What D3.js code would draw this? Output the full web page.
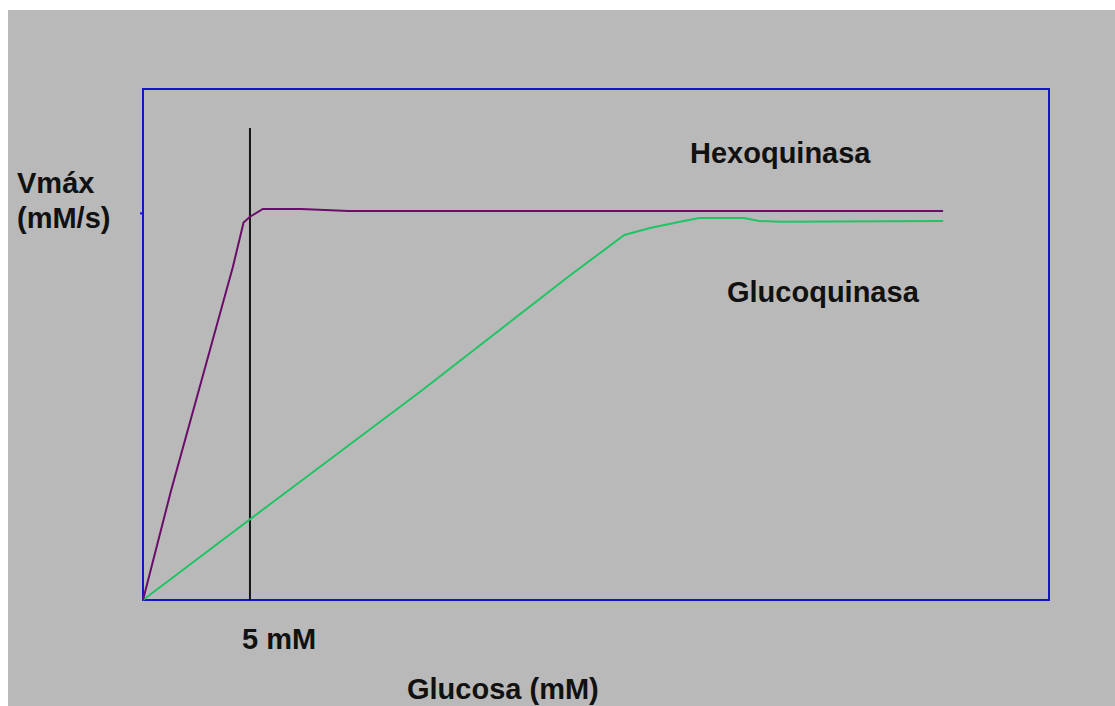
<!DOCTYPE html>
<html>
<head>
<meta charset="utf-8">
<script src="https://cdn.jsdelivr.net/npm/d3@7"></script>
<style>
  body { margin: 0; background: #ffffff; }
  text { font-family: "Liberation Sans", Arial, sans-serif; font-weight: bold; fill: #111; }
</style>
</head>
<body>
<div id="chart"></div>
<script>
// glucose concentration (mM) vs relative velocity (1 = Vmax)
const hexoX = [0, 1.3, 2.9, 4.2, 4.7, 5.0, 5.6, 7.4, 9.6, 37.4];
const hexoY = [0, 0.28, 0.60, 0.86, 0.975, 0.99, 1.01, 1.01, 1.005, 1.005];
const glucoX = [0, 6.0, 13.0, 20.0, 22.5, 23.7, 25.1, 26.0, 28.1, 28.8, 29.8, 37.4];
const glucoY = [0, 0.25, 0.54, 0.84, 0.943, 0.961, 0.977, 0.987, 0.987, 0.979, 0.977, 0.979];
const markX = 5;        // 5 mM reference line
const vmax = 1;

const width = 1115;
const height = 706;
const margin = {t: 89, b: 106, l: 143, r: 66};

const svg = d3.select("#chart")
    .append("svg")
    .attr("width", width)
    .attr("height", height);

//background
svg.append("rect")
    .attr("x", 8)
    .attr("y", 10)
    .attr("width", width - 8)
    .attr("height", height - 10)
    .attr("fill", "#b9b9b9");

const xScale = d3.scaleLinear()
    .domain([0, 42.35])
    .range([margin.l, width - margin.r]);

const yScale = d3.scaleLinear()
    .domain([0, 1.32])
    .range([height - margin.b, margin.t]);

//plot frame
svg.append("rect")
    .attr("x", margin.l)
    .attr("y", margin.t)
    .attr("width", width - margin.l - margin.r)
    .attr("height", height - margin.t - margin.b)
    .attr("fill", "none")
    .attr("stroke", "#1414c8")
    .attr("stroke-width", 2);

//little tick at Vmax
const y_axis = d3.axisLeft(yScale)
    .tickValues([vmax])
    .tickSize(3)
    .tickFormat("");
svg.append("g")
    .attr("transform", `translate(${margin.l}, 0)`)
    .call(y_axis)
    .call(g => g.select(".domain").remove())
    .call(g => g.selectAll("line").attr("stroke", "#1414c8").attr("stroke-width", 2));

//5 mM line
svg.append("line")
    .attr("x1", xScale(markX))
    .attr("x2", xScale(markX))
    .attr("y1", 128)
    .attr("y2", yScale(0))
    .attr("stroke", "#151515")
    .attr("stroke-width", 2);

const makeLine = d3.line()
    .x(d => xScale(d[0]))
    .y(d => yScale(d[1]));

svg.append("path")
    .attr("d", makeLine(d3.zip(glucoX, glucoY)))
    .attr("fill", "none")
    .attr("stroke", "#1fc464")
    .attr("stroke-width", 2);

svg.append("path")
    .attr("d", makeLine(d3.zip(hexoX, hexoY)))
    .attr("fill", "none")
    .attr("stroke", "#6a0c6a")
    .attr("stroke-width", 2);

//labels
function label(x, y, t) {
    svg.append("text")
        .attr("x", x)
        .attr("y", y)
        .attr("font-size", "29px")
        .text(t);
}
label(690, 163, "Hexoquinasa");
label(727, 302, "Glucoquinasa");
label(17, 193, "Vmáx");
label(17, 228, "(mM/s)");
label(242, 649, "5 mM");
label(407, 699, "Glucosa (mM)");
</script>
</body>
</html>
